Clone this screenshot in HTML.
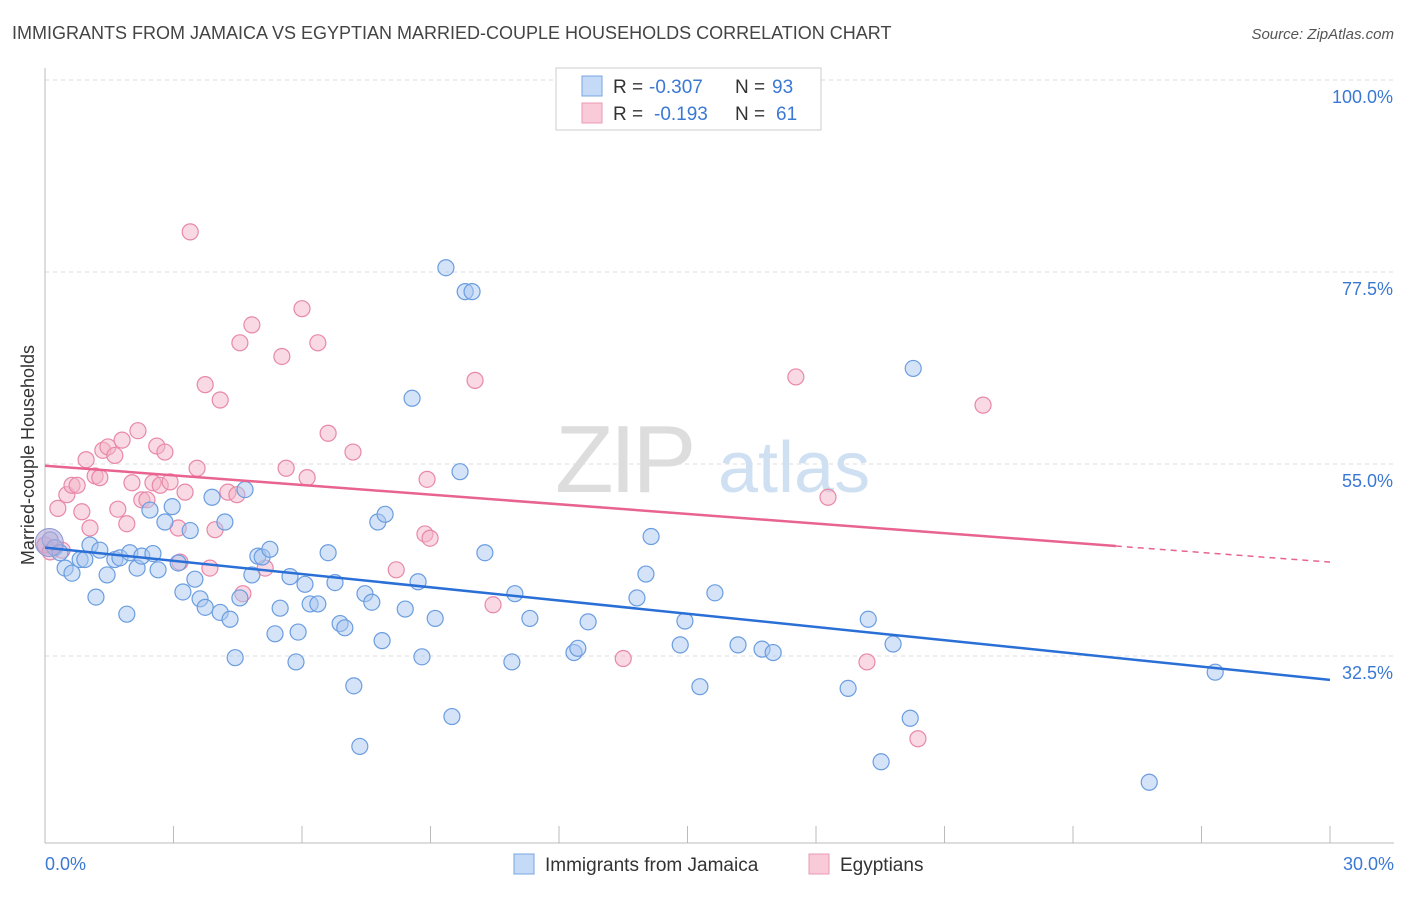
<!DOCTYPE html>
<html><head><meta charset="utf-8"><style>
body{margin:0;background:#fff;font-family:"Liberation Sans",sans-serif;}
svg text{font-family:"Liberation Sans",sans-serif;}
</style></head><body>
<svg id="chart" width="1406" height="892" xmlns="http://www.w3.org/2000/svg">
<text x="12" y="39" font-size="18" fill="#444">IMMIGRANTS FROM JAMAICA VS EGYPTIAN MARRIED-COUPLE HOUSEHOLDS CORRELATION CHART</text>
<text x="1394" y="39" font-size="15" fill="#555" text-anchor="end" font-style="italic">Source: ZipAtlas.com</text>
<g id="grid"></g>
<g>
<text x="555" y="492" font-size="96" fill="#ddd" font-family="Liberation Serif" letter-spacing="-4">ZIP</text>
<text x="718" y="492" font-size="72" fill="#cfe0f3">atlas</text>
</g>
<g id="pts"></g>
<g id="trends"></g>
<text transform="translate(34,455) rotate(-90)" font-size="18" fill="#333" text-anchor="middle">Married-couple Households</text>
<g>
<rect x="556" y="68" width="265" height="62" fill="#fff" stroke="#ccc"/>
<rect x="582" y="76" width="20" height="20" fill="#c4daf6" stroke="#7aa6e3"/>
<rect x="582" y="103" width="20" height="20" fill="#f9cad8" stroke="#eb99b4"/>
<text x="613" y="93" font-size="19" fill="#333">R =</text>
<text x="649" y="93" font-size="19" fill="#3a78d4">-0.307</text>
<text x="735" y="93" font-size="19" fill="#333">N =</text>
<text x="772" y="93" font-size="19" fill="#3a78d4">93</text>
<text x="613" y="120" font-size="19" fill="#333">R =</text>
<text x="654" y="120" font-size="19" fill="#3a78d4">-0.193</text>
<text x="735" y="120" font-size="19" fill="#333">N =</text>
<text x="776" y="120" font-size="19" fill="#3a78d4">61</text>
</g>
<g>
<rect x="514" y="854" width="20" height="20" fill="#c4daf6" stroke="#7aa6e3"/>
<text x="545" y="871" font-size="19" fill="#333">Immigrants from Jamaica</text>
<rect x="809" y="854" width="20" height="20" fill="#f9cad8" stroke="#eb99b4"/>
<text x="840" y="871" font-size="19" fill="#333">Egyptians</text>
</g>
</svg>
<script>
const xTicks=[0,3,6,9,12,15,18,21,24,27,30];
const yTicks=[100,77.5,55,32.5];
const yTickLabels=["100.0%","77.5%","55.0%","32.5%"];
const blueX=[0.12,0.23,0.35,0.47,0.63,0.82,0.93,1.05,1.19,1.28,1.45,1.63,1.75,1.91,1.98,2.15,2.26,2.45,2.52,2.64,2.80,2.97,3.11,3.22,3.39,3.50,3.62,3.74,3.90,4.09,4.20,4.32,4.44,4.55,4.67,4.83,4.97,5.07,5.25,5.37,5.49,5.72,5.86,5.91,6.07,6.19,6.37,6.61,6.77,6.89,7.00,7.21,7.35,7.47,7.63,7.77,7.87,7.94,8.41,8.57,8.71,8.80,9.11,9.36,9.50,9.69,9.81,9.97,10.27,10.90,10.97,11.32,12.35,12.44,12.68,13.82,14.03,14.15,14.83,14.94,15.29,15.64,16.18,16.74,17.00,18.75,19.22,19.52,19.80,20.20,20.27,25.78,27.32];
const blueY=[46.1,45.2,44.6,42.8,42.2,43.8,43.8,45.5,39.4,44.9,42.0,43.8,44.0,37.4,44.6,42.8,44.2,49.6,44.5,42.6,48.2,50.0,43.4,40.0,47.2,41.5,39.2,38.2,51.1,37.6,48.2,36.8,32.3,39.3,52.0,42.0,44.2,44.1,45.0,35.1,38.1,41.8,31.8,35.3,40.9,38.6,38.6,44.6,41.1,36.3,35.8,29.0,21.9,39.8,38.8,48.2,34.3,49.1,38.0,62.7,41.2,32.4,36.9,78.0,25.4,54.1,75.2,75.2,44.6,31.8,39.8,36.9,32.9,33.4,36.5,39.3,42.1,46.5,33.8,36.6,28.9,39.9,33.8,33.3,32.9,28.7,36.8,20.1,33.9,25.2,66.2,17.7,30.6];
const pinkX=[0.0,0.12,0.30,0.40,0.51,0.63,0.75,0.86,0.96,1.05,1.17,1.28,1.35,1.47,1.63,1.70,1.80,1.91,2.03,2.17,2.26,2.38,2.52,2.61,2.69,2.80,2.92,3.11,3.15,3.27,3.39,3.55,3.74,3.85,3.97,4.09,4.27,4.48,4.55,4.62,4.83,5.14,5.53,5.63,6.00,6.12,6.37,6.61,7.19,8.20,8.87,8.99,8.92,10.04,10.46,13.50,17.53,18.28,19.19,20.38,21.90];
const pinkY=[45.5,44.7,49.8,44.9,51.4,52.5,52.5,49.4,55.5,47.5,53.6,53.4,56.6,57.0,56.0,49.7,57.8,48.0,52.8,58.9,50.8,50.8,52.8,57.1,52.5,56.4,52.9,47.5,43.5,51.7,82.2,54.5,64.3,42.8,47.3,62.5,51.7,51.4,69.2,39.8,71.3,42.8,67.6,54.5,73.2,53.4,69.2,58.6,56.4,42.6,46.8,46.3,53.2,64.8,38.5,32.2,65.2,51.1,31.8,22.8,61.9];
const blueTrend=[45.2,29.7];
const pinkTrend=[54.8,43.5];
const pinkSolidEnd=25;
const NS="http://www.w3.org/2000/svg";
const X=v=>45+v*42.833;
const Y=v=>80+(100-v)*8.533;
function mk(t,a,p){const e=document.createElementNS(NS,t);for(const k in a)e.setAttribute(k,a[k]);p.appendChild(e);return e;}
const grid=document.getElementById('grid');
yTicks.forEach((t,i)=>{
 const l=mk('line',{x1:45,x2:1394,y1:Y(t),y2:Y(t),stroke:'#ddd','stroke-dasharray':'4,4'},grid);
 
 
 const tx=mk('text',{x:1393,y:Y(t)+23,'font-size':18,fill:'#3a78d4','text-anchor':'end'},grid);
 tx.textContent=yTickLabels[i];
 
 
});
const ax=mk('line',{x1:45,x2:45,y1:68,y2:843,stroke:'#bbb'},grid);


const bx=mk('line',{x1:45,x2:1394,y1:843,y2:843,stroke:'#bbb'},grid);


xTicks.forEach(t=>{
 const l=mk('line',{x1:X(t),x2:X(t),y1:826,y2:843,stroke:'#bbb'},grid);
 
 
});
[[0,'0.0%','start',45],[30,'30.0%','end',1394]].forEach(d=>{
 const tx=mk('text',{x:d[3],y:870,'font-size':18,fill:'#3a78d4','text-anchor':d[2]},grid);
 tx.textContent=d[1];
 
 
});
const pts=document.getElementById('pts');
function dots(xs,ys,fill,stroke,name){
 xs.forEach((x,i)=>{
  const c=mk('circle',{cx:X(x),cy:Y(ys[i]),r:8,fill:fill,'fill-opacity':0.5,stroke:stroke,'stroke-width':1.2},pts);
  
  
 });
}
dots(pinkX,pinkY,'#f4b3c8','#e888a8','egyptians-point');
dots(blueX,blueY,'#a9c8f0','#6a9de0','jamaica-point');
const big=mk('circle',{cx:X(0.1),cy:Y(45.8),r:14,fill:'#b8a6d4','fill-opacity':0.6,stroke:'#8a9ad8'},pts);


const tr=document.getElementById('trends');
const b=mk('line',{x1:X(0),y1:Y(blueTrend[0]),x2:X(30),y2:Y(blueTrend[1]),stroke:'#2a6fd6','stroke-width':2.5},tr);


const pm=pinkTrend[0]+(pinkTrend[1]-pinkTrend[0])*pinkSolidEnd/30;
const p1=mk('line',{x1:X(0),y1:Y(pinkTrend[0]),x2:X(pinkSolidEnd),y2:Y(pm),stroke:'#e8638f','stroke-width':2.5},tr);


const p2=mk('line',{x1:X(pinkSolidEnd),y1:Y(pm),x2:X(30),y2:Y(pinkTrend[1]),stroke:'#e8638f','stroke-width':1.5,'stroke-dasharray':'6,5'},tr);


</script>
</body></html>
